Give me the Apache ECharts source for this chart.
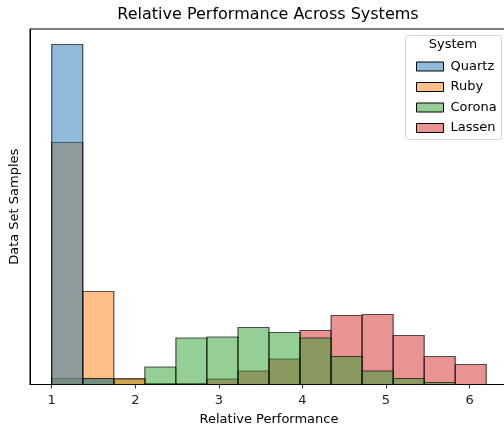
<!DOCTYPE html>
<html><head><meta charset="utf-8">
<script src="https://cdn.jsdelivr.net/npm/echarts@6/dist/echarts.min.js"></script>
<style>html,body{margin:0;padding:0;background:#fff}#c{width:504px;height:430px}</style>
</head><body><div id="c"></div>
<script>
// Bin edges of the histogram (Relative Performance)
const binEdges = [1.0, 1.3714, 1.7429, 2.1143, 2.4857, 2.8571, 3.2286, 3.6, 3.9714, 4.3429, 4.7143, 5.0857, 5.4571, 5.8286, 6.2];
// Samples per bin (relative units) for each system
const quartz = [340, 6, 0, 0, 0, 0, 0, 0, 0, 0, 0, 0, 0, 0];
const ruby   = [242, 93, 6, 0, 0, 0, 0, 0, 0, 0, 0, 0, 0, 0];
const corona = [6, 6, 5, 17.5, 46.5, 47.5, 57, 52, 46.5, 28, 13.5, 6, 2, 0];
const lassen = [0, 0, 0, 1, 1, 5.5, 13.5, 25.5, 54, 69, 70, 49, 28, 20];
const xTicks = [1, 2, 3, 4, 5, 6];
const systems = ['Quartz', 'Ruby', 'Corona', 'Lassen'];
const fills = {
  Quartz: 'rgba(31,119,180,0.5)',
  Ruby: 'rgba(255,127,14,0.5)',
  Corona: 'rgba(44,160,44,0.5)',
  Lassen: 'rgba(214,39,40,0.5)'
};
const values = {Quartz: quartz, Ruby: ruby, Corona: corona, Lassen: lassen};
const FONT = 'DejaVu Sans';
const edge = 'rgba(0,0,0,0.65)';

function seriesFor(name) {
  const data = values[name].map((v, i) => [binEdges[i], binEdges[i + 1], v]).filter(d => d[2] > 0);
  return {
    type: 'custom',
    name: name,
    data: data,
    encode: {x: [0, 1], y: 2},
    itemStyle: {color: fills[name], borderColor: '#000'},
    renderItem: function (params, api) {
      const p0 = api.coord([api.value(0), api.value(2)]);
      const p1 = api.coord([api.value(1), 0]);
      return {
        type: 'rect',
        shape: {x: p0[0], y: p0[1], width: p1[0] - p0[0], height: p1[1] - p0[1]},
        style: {fill: fills[name], stroke: edge, lineWidth: 1.2}
      };
    }
  };
}

const chart = echarts.init(document.getElementById('c'), null, {renderer: 'canvas'});
chart.setOption({
  animation: false,
  title: {
    text: 'Relative Performance Across Systems',
    left: 263, top: 2, textAlign: 'center',
    textStyle: {fontFamily: FONT, fontSize: 16, fontWeight: 'normal', color: '#000'}
  },
  grid: {left: 30, width: 478, top: 29, height: 355.5, outerBoundsMode: 'none', containLabel: false,
         show: true, borderColor: '#000', borderWidth: 1, backgroundColor: 'transparent'},
  xAxis: {
    type: 'value', min: 0.74, max: 6.46,
    name: 'Relative Performance', nameLocation: 'middle', nameGap: 29,
    nameTextStyle: {fontFamily: FONT, fontSize: 13, color: '#000'},
    axisLine: {lineStyle: {color: '#000', width: 1}},
    axisTick: {show: true, customValues: xTicks, length: 4, lineStyle: {color: '#333', width: 1}},
    axisLabel: {customValues: xTicks, margin: 10, fontFamily: FONT, fontSize: 13, color: '#222'},
    splitLine: {show: false}
  },
  yAxis: {
    type: 'value', min: 0, max: 355.5,
    name: 'Data Set Samples', nameLocation: 'middle', nameGap: 9,
    nameTextStyle: {fontFamily: FONT, fontSize: 13, color: '#000'},
    axisLine: {show: true, lineStyle: {color: '#000', width: 1}},
    axisTick: {show: false}, axisLabel: {show: false}, splitLine: {show: false}
  },
  legend: {
    orient: 'vertical', left: 411, top: 55,
    itemWidth: 27, itemHeight: 9, itemGap: 7.5,
    icon: 'rect',
    data: systems.map(n => ({name: n, itemStyle: {color: fills[n], borderColor: '#000', borderWidth: 1}})),
    textStyle: {fontFamily: FONT, fontSize: 13, color: '#000', padding: [0, 0, 0, 2]}
  },
  graphic: [
    {type: 'rect', left: 405, top: 35, shape: {width: 96, height: 104, r: 3}, style: {fill: 'rgba(255,255,255,0.8)', stroke: '#d5d5d5', lineWidth: 1}, z: 1},
    {type: 'text', x: 453, y: 45, style: {text: 'System', font: '13px "DejaVu Sans"', fill: '#000', textAlign: 'center', textVerticalAlign: 'middle'}, z: 2}
  ],
  series: ['Lassen', 'Corona', 'Ruby', 'Quartz'].map(seriesFor)
});
</script></body></html>
